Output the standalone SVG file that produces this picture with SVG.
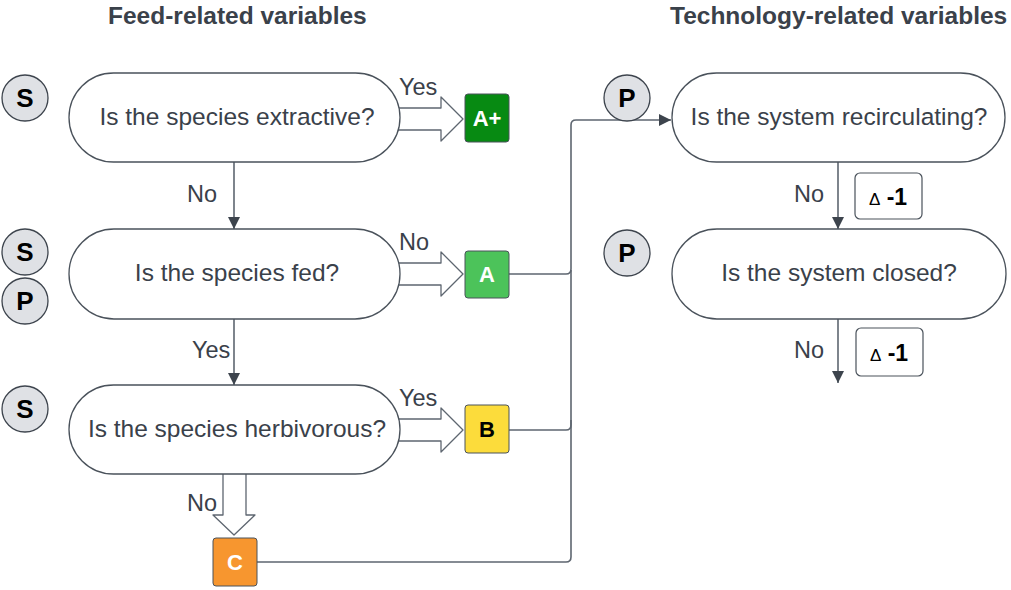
<svg xmlns="http://www.w3.org/2000/svg" width="1011" height="590" viewBox="0 0 1011 590">
<defs>
<marker id="ah" markerWidth="12" markerHeight="12" refX="10" refY="5" orient="auto" markerUnits="userSpaceOnUse" viewBox="0 0 10 10"><path d="M0,0 L10,5 L0,10 Z" fill="#3d444d"/></marker>
<style>
.hdr{font-family:"Liberation Sans",Arial,sans-serif;font-size:24.5px;font-weight:bold;fill:#3a414a}
.q{fill:#fff;stroke:#4a525b;stroke-width:1.3}
.qt{font-family:"Liberation Sans",Arial,sans-serif;font-size:24.5px;fill:#3a414a;text-anchor:middle}
.lbl{font-family:"Liberation Sans",Arial,sans-serif;font-size:23.5px;fill:#3a414a}
.circ{fill:#dfe1e5;stroke:#3d444d;stroke-width:1.3}
.ct{font-family:"Liberation Sans",Arial,sans-serif;font-size:26px;font-weight:bold;fill:#000;text-anchor:middle}
.box{stroke:#4a525b;stroke-width:1}
.bt{font-family:"Liberation Sans",Arial,sans-serif;font-size:22px;font-weight:bold;text-anchor:middle}
.hollow{fill:#fff;stroke:#5e6670;stroke-width:1.3;stroke-linejoin:round}
.line{fill:none;stroke:#5e6670;stroke-width:1.6}
.dl{fill:#fff;stroke:#4a525b;stroke-width:1.2}
</style>
</defs>
<rect width="1011" height="590" fill="#fff"/>
<text class="hdr" x="108" y="24">Feed-related variables</text>
<text class="hdr" x="670" y="24">Technology-related variables</text>

<g id="connectors">
<polygon class="hollow" points="385,108 441,108 441,97 463,119 441,141 441,130 385,130"/>
<polygon class="hollow" points="385,263 441,263 441,252 463,274 441,296 441,285 385,285"/>
<polygon class="hollow" points="385,419 441,419 441,408 463,430 441,452 441,441 385,441"/>
<polygon class="hollow" points="223,465 246,465 246,515 255,515 234,535 213,515 223,515"/>
<path class="line" d="M234,162 V229" marker-end="url(#ah)"/>
<path class="line" d="M234,319 V385" marker-end="url(#ah)"/>
<path class="line" d="M509,274 H566 Q571,274 571,269 V125 Q571,120 576,120 H671" marker-end="url(#ah)"/>
<path class="line" d="M509,430 H566 Q571,430 571,425 V270"/>
<path class="line" d="M257,562 H566 Q571,562 571,557 V420"/>
<path class="line" d="M838,162 V229" marker-end="url(#ah)"/>
<path class="line" d="M838,319 V383" marker-end="url(#ah)"/>
<text class="lbl" x="399" y="95">Yes</text>
<text class="lbl" x="399" y="250">No</text>
<text class="lbl" x="399" y="406">Yes</text>
<text class="lbl" x="187" y="202">No</text>
<text class="lbl" x="192" y="358">Yes</text>
<text class="lbl" x="187" y="511">No</text>
<text class="lbl" x="794" y="202">No</text>
<text class="lbl" x="794" y="358">No</text>
</g>

<g id="q1"><rect class="q" x="69" y="73" width="331" height="89" rx="44.5"/><text class="qt" x="237" y="125">Is the species extractive?</text></g>
<g id="q2"><rect class="q" x="69" y="229" width="331" height="90" rx="45"/><text class="qt" x="237" y="281">Is the species fed?</text></g>
<g id="q3"><rect class="q" x="69" y="385" width="331" height="89" rx="44.5"/><text class="qt" x="237" y="437">Is the species herbivorous?</text></g>
<g id="q4"><rect class="q" x="672" y="73" width="333" height="89" rx="44.5"/><text class="qt" x="839" y="125">Is the system recirculating?</text></g>
<g id="q5"><rect class="q" x="672" y="229" width="334" height="90" rx="45"/><text class="qt" x="839" y="281">Is the system closed?</text></g>

<g id="s1"><circle class="circ" cx="25" cy="98" r="23"/><text class="ct" x="25" y="107">S</text></g>
<g id="s2"><circle class="circ" cx="25" cy="252" r="23"/><text class="ct" x="25" y="261">S</text></g>
<g id="p1"><circle class="circ" cx="25" cy="301" r="23"/><text class="ct" x="25" y="310">P</text></g>
<g id="s3"><circle class="circ" cx="25" cy="409" r="23"/><text class="ct" x="25" y="418">S</text></g>
<g id="p2"><circle class="circ" cx="627" cy="98" r="23"/><text class="ct" x="627" y="107">P</text></g>
<g id="p3"><circle class="circ" cx="627" cy="253" r="23"/><text class="ct" x="627" y="262">P</text></g>

<g id="boxAplus"><rect class="box" x="465" y="94" width="44" height="48" rx="3" fill="#078a12"/><text class="bt" x="487" y="126" fill="#fff">A+</text></g>
<g id="boxA"><rect class="box" x="465" y="251" width="44" height="47" rx="3" fill="#4cc35a"/><text class="bt" x="487" y="282" fill="#fff">A</text></g>
<g id="boxB"><rect class="box" x="465" y="405" width="44" height="48" rx="3" fill="#fcdc3b"/><text class="bt" x="487" y="437" fill="#000">B</text></g>
<g id="boxC"><rect class="box" x="213" y="538" width="44" height="48" rx="3" fill="#f7962f"/><text class="bt" x="235" y="570" fill="#fff">C</text></g>

<g id="d1"><rect class="dl" x="855" y="173" width="67" height="46" rx="5"/><text x="888" y="205" text-anchor="middle" font-family="Liberation Sans,Arial,sans-serif" fill="#000"><tspan font-size="17">Δ</tspan><tspan font-size="23" font-weight="bold"> -1</tspan></text></g>
<g id="d2"><rect class="dl" x="856" y="328" width="67" height="48" rx="5"/><text x="889" y="361" text-anchor="middle" font-family="Liberation Sans,Arial,sans-serif" fill="#000"><tspan font-size="17">Δ</tspan><tspan font-size="23" font-weight="bold"> -1</tspan></text></g>
</svg>
